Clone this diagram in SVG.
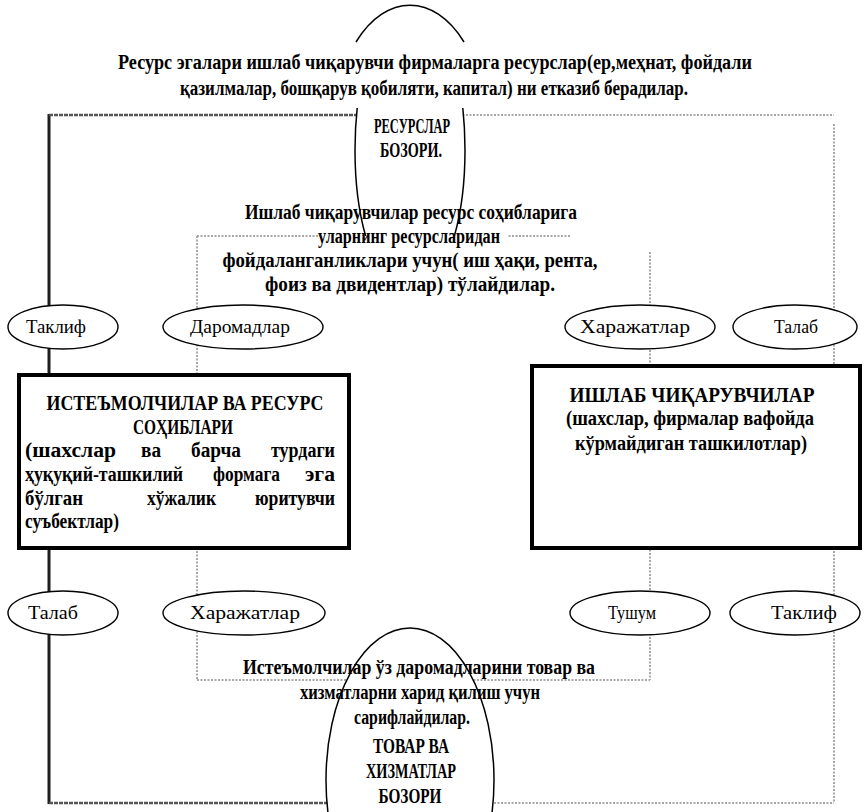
<svg xmlns="http://www.w3.org/2000/svg" width="868" height="812" viewBox="0 0 868 812">
<style>
.t{font-family:"Liberation Serif","Times New Roman",serif;font-weight:bold;font-size:20px;fill:#000}
.h{font-family:"Liberation Serif","Times New Roman",serif;font-weight:bold;font-size:21px;fill:#000}
.m{font-family:"Liberation Serif","Times New Roman",serif;font-weight:bold;font-size:22px;fill:#000}
.l{font-family:"Liberation Serif","Times New Roman",serif;font-size:19px;fill:#000}
.dark{stroke:#1e1e1e;stroke-width:3;fill:none}
.mid{stroke:#555;stroke-width:2.5;fill:none;stroke-dasharray:4 1}
.gray{stroke:#a8a8a8;stroke-width:2;fill:none;stroke-dasharray:2 1.5}
.oval{fill:#fff;stroke:#000;stroke-width:1.4}
.box{fill:#fff;stroke:#000;stroke-width:4}
.mk{fill:#fff;stroke:none}
.ms{fill:none;stroke:#000;stroke-width:1.5}
</style>
<defs>
<clipPath id="sideclip"><rect x="0" y="108" width="868" height="128"/></clipPath>
</defs>
<rect width="868" height="812" fill="#fff"/>
<g id="connectors">
<line class="dark" x1="49" y1="114" x2="49" y2="804"/>
<line class="mid" x1="49" y1="115" x2="410" y2="115"/>
<line class="gray" x1="410" y1="115" x2="834" y2="115"/>
<line class="gray" x1="834" y1="124" x2="834" y2="803"/>
<line class="mid" x1="49" y1="803" x2="410" y2="803"/>
<line class="gray" x1="410" y1="803" x2="834" y2="803"/>
<line class="gray" x1="197" y1="236" x2="197" y2="680"/>
<line class="gray" x1="197" y1="236" x2="570" y2="236"/>
<line class="gray" x1="650" y1="252" x2="650" y2="680"/>
<line class="gray" x1="197" y1="680" x2="650" y2="680"/>
</g>
<rect class="mk" x="318" y="229" width="190" height="70"/>
<g id="resource-market">
<ellipse class="mk" cx="410" cy="150" rx="55" ry="145" clip-path="url(#sideclip)"/>
<text class="m" x="412" y="133" text-anchor="middle" textLength="76" lengthAdjust="spacingAndGlyphs">РЕСУРСЛАР</text>
<text class="m" x="411" y="157" text-anchor="middle" textLength="62" lengthAdjust="spacingAndGlyphs">БОЗОРИ.</text>
</g>
<g id="text-top">
<text class="t" x="435" y="69" text-anchor="middle" textLength="634" lengthAdjust="spacingAndGlyphs">Ресурс эгалари ишлаб чиқарувчи фирмаларга ресурслар(ер,меҳнат, фойдали</text>
<text class="t" x="434" y="95" text-anchor="middle" textLength="508" lengthAdjust="spacingAndGlyphs">қазилмалар, бошқарув қобиляти, капитал) ни етказиб берадилар.</text>
</g>
<g id="text-middle">
<text class="t" x="411" y="219" text-anchor="middle" textLength="332" lengthAdjust="spacingAndGlyphs">Ишлаб чиқарувчилар ресурс соҳибларига</text>
<text class="t" x="409" y="243" text-anchor="middle" textLength="182" lengthAdjust="spacingAndGlyphs">уларнинг ресурсларидан</text>
<text class="t" x="410" y="267" text-anchor="middle" textLength="375" lengthAdjust="spacingAndGlyphs">фойдаланганликлари учун( иш ҳақи, рента,</text>
<text class="t" x="410" y="291" text-anchor="middle" textLength="290" lengthAdjust="spacingAndGlyphs">фоиз ва двидентлар) тўлайдилар.</text>
</g>
<path class="ms" d="M356,42 C386,-7 434,-7 464,42"/>
<ellipse class="ms" cx="410" cy="150" rx="55" ry="145" clip-path="url(#sideclip)"/>
<g id="goods-market">
<ellipse class="mk" cx="410" cy="780" rx="84" ry="152"/>
<text class="m" x="411" y="753" text-anchor="middle" textLength="76" lengthAdjust="spacingAndGlyphs">ТОВАР ВА</text>
<text class="m" x="411" y="778" text-anchor="middle" textLength="90" lengthAdjust="spacingAndGlyphs">ХИЗМАТЛАР</text>
<text class="m" x="410" y="803" text-anchor="middle" textLength="63" lengthAdjust="spacingAndGlyphs">БОЗОРИ</text>
</g>
<g id="text-bottom">
<text class="t" x="419" y="674" text-anchor="middle" textLength="352" lengthAdjust="spacingAndGlyphs">Истеъмолчилар ўз даромадларини товар ва</text>
<text class="t" x="420" y="699" text-anchor="middle" textLength="240" lengthAdjust="spacingAndGlyphs">хизматларни харид қилиш учун</text>
<text class="t" x="412" y="724" text-anchor="middle" textLength="116" lengthAdjust="spacingAndGlyphs">сарифлайдилар.</text>
</g>
<ellipse class="ms" cx="410" cy="780" rx="84" ry="152"/>
<g id="oval-taklif-top"><ellipse class="oval" cx="63" cy="327" rx="55" ry="22"/><text class="l" x="56" y="333" text-anchor="middle" textLength="60" lengthAdjust="spacingAndGlyphs">Таклиф</text></g>
<g id="oval-daromad-top"><ellipse class="oval" cx="243" cy="327" rx="80" ry="22"/><text class="l" x="240" y="333" text-anchor="middle" textLength="100" lengthAdjust="spacingAndGlyphs">Даромадлар</text></g>
<g id="oval-xarajat-top"><ellipse class="oval" cx="640" cy="327" rx="75" ry="22"/><text class="l" x="635" y="333" text-anchor="middle" textLength="110" lengthAdjust="spacingAndGlyphs">Харажатлар</text></g>
<g id="oval-talab-top"><ellipse class="oval" cx="795" cy="327" rx="62" ry="22"/><text class="l" x="796" y="333" text-anchor="middle" textLength="44" lengthAdjust="spacingAndGlyphs">Талаб</text></g>
<g id="oval-talab-bottom"><ellipse class="oval" cx="63" cy="613" rx="55" ry="22"/><text class="l" x="53" y="619" text-anchor="middle" textLength="50" lengthAdjust="spacingAndGlyphs">Талаб</text></g>
<g id="oval-xarajat-bottom"><ellipse class="oval" cx="244" cy="613" rx="81" ry="22"/><text class="l" x="245" y="619" text-anchor="middle" textLength="110" lengthAdjust="spacingAndGlyphs">Харажатлар</text></g>
<g id="oval-tushum-bottom"><ellipse class="oval" cx="640" cy="613" rx="70" ry="22"/><text class="l" x="632" y="619" text-anchor="middle" textLength="48" lengthAdjust="spacingAndGlyphs">Тушум</text></g>
<g id="oval-taklif-bottom"><ellipse class="oval" cx="795" cy="613" rx="65" ry="22"/><text class="l" x="804" y="619" text-anchor="middle" textLength="66" lengthAdjust="spacingAndGlyphs">Таклиф</text></g>
<g id="box-consumers">
<rect class="box" x="19" y="375" width="330" height="173"/>
<text class="h" x="185" y="410" text-anchor="middle" textLength="277" lengthAdjust="spacingAndGlyphs">ИСТЕЪМОЛЧИЛАР ВА РЕСУРС</text>
<text class="h" x="183" y="434" text-anchor="middle" textLength="100" lengthAdjust="spacingAndGlyphs">СОҲИБЛАРИ</text>
<text class="t" x="25" y="457" textLength="91" lengthAdjust="spacingAndGlyphs">(шахслар</text>
<text class="t" x="141" y="457" textLength="20" lengthAdjust="spacingAndGlyphs">ва</text>
<text class="t" x="191" y="457" textLength="50" lengthAdjust="spacingAndGlyphs">барча</text>
<text class="t" x="271" y="457" textLength="64" lengthAdjust="spacingAndGlyphs">турдаги</text>
<text class="t" x="25" y="481" textLength="158" lengthAdjust="spacingAndGlyphs">ҳуқуқий-ташкилий</text>
<text class="t" x="213" y="481" textLength="67" lengthAdjust="spacingAndGlyphs">формага</text>
<text class="t" x="305" y="481" textLength="30" lengthAdjust="spacingAndGlyphs">эга</text>
<text class="t" x="25" y="505" textLength="58" lengthAdjust="spacingAndGlyphs">бўлган</text>
<text class="t" x="147" y="505" textLength="69" lengthAdjust="spacingAndGlyphs">хўжалик</text>
<text class="t" x="255" y="505" textLength="80" lengthAdjust="spacingAndGlyphs">юритувчи</text>
<text class="t" x="25" y="528" textLength="94" lengthAdjust="spacingAndGlyphs">суъбектлар)</text>
</g>
<g id="box-producers">
<rect class="box" x="532" y="366" width="328" height="182"/>
<text class="h" x="692" y="402" text-anchor="middle" textLength="245" lengthAdjust="spacingAndGlyphs">ИШЛАБ ЧИҚАРУВЧИЛАР</text>
<text class="t" x="690" y="425" text-anchor="middle" textLength="248" lengthAdjust="spacingAndGlyphs">(шахслар, фирмалар вафойда</text>
<text class="t" x="691" y="450" text-anchor="middle" textLength="232" lengthAdjust="spacingAndGlyphs">кўрмайдиган ташкилотлар)</text>
</g>
</svg>
